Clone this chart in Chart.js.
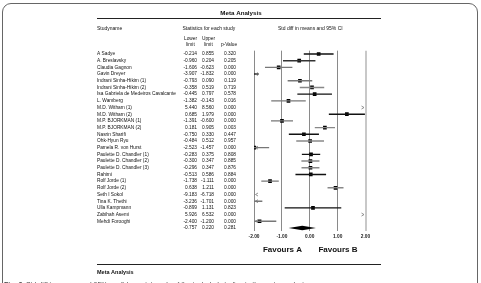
<!DOCTYPE html>
<html>
<head>
<meta charset="utf-8">
<script src="https://cdn.jsdelivr.net/npm/chart.js@4.4.1/dist/chart.umd.min.js"></script>
<style>
  html, body { margin: 0; padding: 0; background: #fff; overflow: hidden; }
  #wrap { position: relative; width: 481px; height: 283px; overflow: hidden; }
  #frame { position: absolute; left: 2px; top: 3px; width: 474px; height: 330px; border: 1px solid #666; border-radius: 9px; }
  #chart { position: absolute; left: 0; top: 0; }
</style>
</head>
<body>
<div id="wrap">
  <div id="frame"></div>
  <canvas id="chart" width="481" height="283"></canvas>
</div>
<script>
// Données
const studies = [
    'A Sadye', 'A. Breslavsky', 'Claudia Gagnon', 'Gavin Dreyer',
    'Indrani Sinha-Hikim (1)', 'Indrani Sinha-Hikim (2)', 'Isa Gabriela de Medeiros Cavalcante',
    'L. Wamberg', 'M.D. Witham (1)', 'M.D. Witham (2)', 'M.P. BJORKMAN (1)', 'M.P. BJORKMAN (2)',
    'Nasrin Sharifi', 'Ohk-Hyun Ryu', 'Pamela R. von Hurst', 'Paulette D. Chandler (1)',
    'Paulette D. Chandler (2)', 'Paulette D. Chandler (3)', 'Rahimi', 'Rolf Jorde (1)',
    'Rolf Jorde (2)', 'Seth I Sokol', 'Tina K. Thethi', 'Ulla Kampmann', 'Zabihah Asemi', 'Mehdi Forooghi'
];
const lowerLimit = [-0.214, -0.960, -1.606, -3.907, -0.793, -0.358, -0.445, -1.382, 5.440, 0.685, -1.391, 0.181,
    -0.750, -0.484, -2.523, -0.283, -0.300, -0.296, -0.513, -1.738, 0.638, -9.183, -3.236, -0.899, 5.926, -2.400];
const upperLimit = [0.855, 0.204, -0.623, -1.832, 0.090, 0.519, 0.797, -0.143, 8.560, 1.979, -0.600, 0.905,
    0.330, 0.512, -1.457, 0.375, 0.347, 0.347, 0.586, -1.111, 1.211, -6.718, -1.701, 1.131, 6.532, -1.200];
const pValue = [0.320, 0.205, 0.000, 0.000, 0.119, 0.719, 0.578, 0.016, 0.000, 0.000, 0.000, 0.003,
    0.447, 0.957, 0.000, 0.808, 0.885, 0.876, 0.884, 0.000, 0.000, 0.000, 0.000, 0.823, 0.000, 0.000];
const effect = [0.320, -0.378, -1.115, -2.870, -0.352, 0.081, 0.176, -0.763, 7.000, 1.332, -0.996, 0.543,
    -0.210, 0.014, -1.990, 0.046, 0.024, 0.026, 0.037, -1.425, 0.925, -7.950, -2.469, 0.116, 6.229, -1.800];

const summaryLower = -0.757;
const summaryUpper = 0.220;
const summaryP = 0.281;
const summaryEffect = -0.268;

const xTicks = [-2, -1, 0, 1, 2];

// Couleur des intervalles (noir ou gris comme sur la figure)
const ciColors = ['#111', '#333', '#777', '#222', '#777', '#888', '#111', '#777', '#111', '#111', '#777', '#888',
    '#111', '#888', '#777', '#111', '#888', '#888', '#111', '#777', '#888', '#777', '#777', '#111', '#111', '#777'];

const FONT = '"Liberation Sans", Arial, sans-serif';
const summaryRow = studies.length;

// Points des intervalles, séparés par des trous
const ciPoints = [];
studies.forEach((s, i) => {
    ciPoints.push({ x: lowerLimit[i], y: i }, { x: upperLimit[i], y: i }, { x: null, y: null });
});

const tablePlugin = {
    id: 'tablePlugin',
    afterDraw(chart) {
        const ctx = chart.ctx;
        const xs = chart.scales.x;
        const ys = chart.scales.y;
        const area = chart.chartArea;
        ctx.save();
        ctx.fillStyle = '#111';
        ctx.textBaseline = 'middle';

        // Titre
        ctx.font = 'bold 6.2px ' + FONT;
        ctx.textAlign = 'center';
        ctx.fillText('Meta Analysis', 241, 13.5);
        ctx.strokeStyle = '#222';
        ctx.lineWidth = 1;
        ctx.beginPath();
        ctx.moveTo(97, 18.5); ctx.lineTo(381, 18.5);
        ctx.moveTo(97, 264.5); ctx.lineTo(381, 264.5);
        ctx.stroke();

        // En-têtes
        ctx.font = '5px ' + FONT;
        ctx.textAlign = 'left';
        ctx.fillText('Studyname', 97, 29);
        ctx.fillText('Statistics for each study', 182.5, 29);
        ctx.fillText('Std diff in means and 95% CI', 278, 29);
        ctx.font = '4.8px ' + FONT;
        ctx.textAlign = 'center';
        ctx.fillText('Lower', 190.5, 39);
        ctx.fillText('limit', 190.5, 44.5);
        ctx.fillText('Upper', 208.5, 39);
        ctx.fillText('limit', 208.5, 44.5);
        ctx.fillText('p-Value', 229, 44.5);

        // Lignes du tableau
        ctx.font = '4.8px ' + FONT;
        const rowText = (name, lo, hi, p, row) => {
            const y = ys.getPixelForValue(row);
            ctx.textAlign = 'left';
            if (name) ctx.fillText(name, 97, y);
            ctx.textAlign = 'right';
            ctx.fillText(lo.toFixed(3), 197, y);
            ctx.fillText(hi.toFixed(3), 214, y);
            ctx.fillText(p.toFixed(3), 236, y);
        };
        studies.forEach((name, i) => rowText(name, lowerLimit[i], upperLimit[i], pValue[i], i));
        rowText('', summaryLower, summaryUpper, summaryP, summaryRow);

        // Flèches pour les intervalles hors échelle
        ctx.strokeStyle = '#777';
        ctx.lineWidth = 0.8;
        studies.forEach((name, i) => {
            const y = ys.getPixelForValue(i);
            if (lowerLimit[i] < xs.min) {
                ctx.beginPath();
                ctx.moveTo(area.left + 4, y - 1.5);
                ctx.lineTo(area.left + 1.5, y);
                ctx.lineTo(area.left + 4, y + 1.5);
                ctx.stroke();
            }
            if (upperLimit[i] > xs.max) {
                ctx.beginPath();
                ctx.moveTo(area.right - 4, y - 1.5);
                ctx.lineTo(area.right - 1.5, y);
                ctx.lineTo(area.right - 4, y + 1.5);
                ctx.stroke();
            }
        });

        // Losange de l'effet global
        const yd = ys.getPixelForValue(summaryRow);
        ctx.fillStyle = '#000';
        ctx.beginPath();
        ctx.moveTo(xs.getPixelForValue(summaryLower), yd);
        ctx.lineTo(xs.getPixelForValue(summaryEffect), yd - 2.2);
        ctx.lineTo(xs.getPixelForValue(summaryUpper), yd);
        ctx.lineTo(xs.getPixelForValue(summaryEffect), yd + 2.2);
        ctx.closePath();
        ctx.fill();

        // Favours A / B
        ctx.fillStyle = '#111';
        ctx.font = 'bold 8px ' + FONT;
        ctx.textAlign = 'center';
        ctx.fillText('Favours A', 282.5, 250);
        ctx.fillText('Favours B', 338, 250);

        // Pied de figure
        ctx.textAlign = 'left';
        ctx.font = 'bold 5.5px ' + FONT;
        ctx.fillText('Meta Analysis', 97, 272.5);
        ctx.fillStyle = '#444';
        ctx.textBaseline = 'alphabetic';
        ctx.font = 'bold 7px ' + FONT;
        ctx.fillText('Fig. 3', 4, 287);
        ctx.font = '7px ' + FONT;
        ctx.fillText('Std diff in means and 95% confidence intervals of the included studies in the meta-analysis', 26, 287);
        ctx.restore();
    }
};

const chart = new Chart(document.getElementById('chart'), {
    type: 'scatter',
    data: {
        datasets: [
            {
                data: ciPoints,
                showLine: true,
                spanGaps: false,
                borderWidth: 1.4,
                pointRadius: 0,
                segment: { borderColor: ctx => ciColors[Math.floor(ctx.p0DataIndex / 3)] }
            },
            {
                data: effect.map((v, i) => ({ x: v, y: i })),
                pointStyle: 'rect',
                pointRadius: 2.6,
                backgroundColor: '#000',
                borderWidth: 0
            }
        ]
    },
    options: {
        responsive: false,
        devicePixelRatio: 1,
        animation: false,
        events: [],
        layout: { padding: { left: 254, right: 115.5, top: 50.65, bottom: 41.7 } },
        plugins: { legend: { display: false }, tooltip: { enabled: false } },
        scales: {
            x: {
                type: 'linear',
                min: -2,
                max: 2,
                afterBuildTicks: s => { s.ticks = xTicks.map(v => ({ value: v })); },
                afterFit: s => { s.height = 10; },
                border: { display: false },
                grid: {
                    drawTicks: false,
                    color: ctx => ctx.tick && ctx.tick.value === 2 ? '#c8c8c8' : '#8a8a8a',
                    lineWidth: ctx => ctx.tick && ctx.tick.value === 2 ? 2 : 1
                },
                ticks: {
                    padding: 2,
                    color: '#222',
                    font: { family: FONT, size: 4.8, weight: 'bold' },
                    callback: v => Number(v).toFixed(2)
                }
            },
            y: {
                type: 'linear',
                display: false,
                reverse: true,
                min: -0.5,
                max: summaryRow + 0.5
            }
        }
    },
    plugins: [tablePlugin]
});
</script>
</body>
</html>
